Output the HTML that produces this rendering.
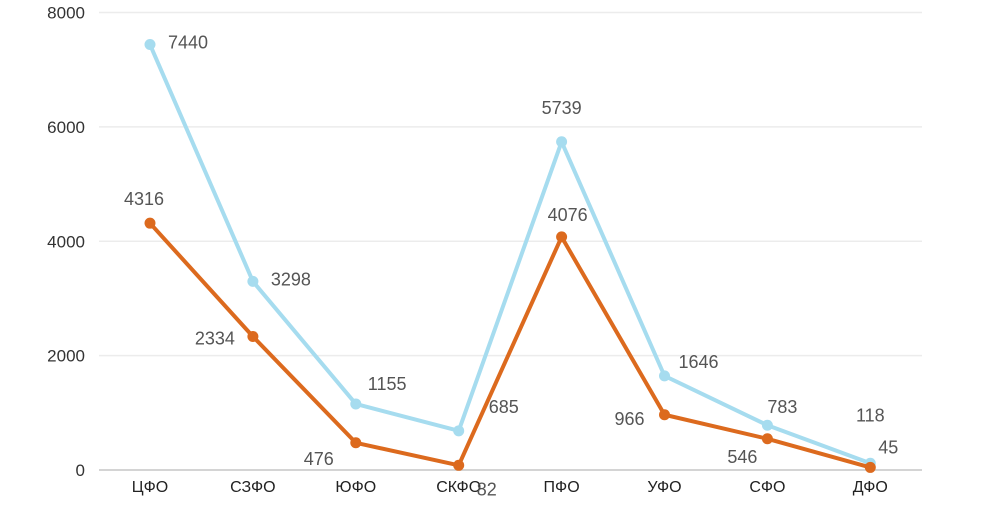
<!DOCTYPE html>
<html><head><meta charset="utf-8"><style>
body{margin:0;background:#fff;width:1000px;height:500px;overflow:hidden}
svg{font-family:"Liberation Sans",sans-serif}
</style></head><body>
<svg id="chart" width="1000" height="500"></svg>
<script>
const categories=["ЦФО","СЗФО","ЮФО","СКФО","ПФО","УФО","СФО","ДФО"];
const seriesBlue=[7440,3298,1155,685,5739,1646,783,118];
const seriesOrange=[4316,2334,476,82,4076,966,546,45];
const yTicks=[0,2000,4000,6000,8000];
// label offsets (dx, dy, anchor)
const blueOff=[[18,4,"start"],[18,4,"start"],[12,-14,"start"],[30,-18,"start"],[0,-28,"middle"],[14,-8,"start"],[0,-12,"start"],[0,-42,"middle"]];
const orangeOff=[[-6,-18,"middle"],[-18,8,"end"],[-22,22,"end"],[18,30,"start"],[6,-16,"middle"],[-20,10,"end"],[-10,24,"end"],[8,-14,"start"]];
const svg=document.getElementById('chart');
const NS="http://www.w3.org/2000/svg";
const x0=150,dx=102.9,yBase=470,yTop=12.5,yMax=8000;
const X=i=>x0+i*dx;
const Y=v=>yBase-(v/yMax)*(yBase-yTop);
function mk(t,a){const e=document.createElementNS(NS,t);for(const k in a)e.setAttribute(k,a[k]);svg.appendChild(e);return e;}
yTicks.forEach(v=>{
  const l=mk('line',{x1:99,x2:922,y1:Y(v),y2:Y(v),stroke:v===0?'#d4d4d4':'#ececec','stroke-width':v===0?2:1.5});
  
  
  const t=mk('text',{x:85,y:Y(v)+6,'text-anchor':'end','font-size':17,fill:'#333'});
  t.textContent=v;
  
  
});
categories.forEach((c,i)=>{
  const t=mk('text',{x:X(i),y:492,'text-anchor':'middle','font-size':16,fill:'#222'});
  t.textContent=c;
  
  
});
function drawSeries(vals,color,off,name){
  const p=mk('polyline',{points:vals.map((v,i)=>X(i)+','+Y(v)).join(' '),fill:'none',stroke:color,'stroke-width':4,'stroke-linejoin':'round'});
  
  
  vals.forEach((v,i)=>{
    const c=mk('circle',{cx:X(i),cy:Y(v),r:5.5,fill:color});
    
    
    const o=off[i];
    const t=mk('text',{x:X(i)+o[0],y:Y(v)+o[1],'text-anchor':o[2],'font-size':18,fill:'#555'});
    t.textContent=v;
    
    
  });
}
drawSeries(seriesBlue,'#a6dcef',blueOff,'blue-series');
drawSeries(seriesOrange,'#dc6a1e',orangeOff,'orange-series');
</script>
</body></html>
